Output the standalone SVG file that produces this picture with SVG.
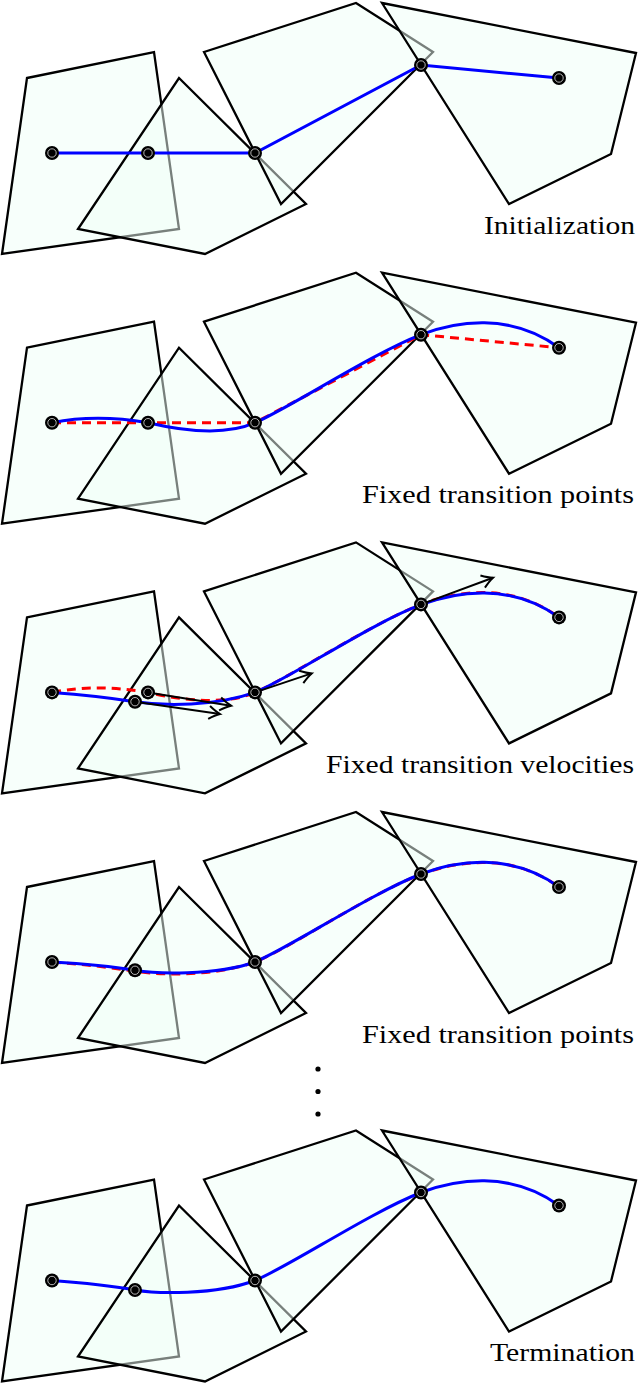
<svg xmlns="http://www.w3.org/2000/svg" width="638" height="1384" viewBox="0 0 638 1384">
<style>
.poly{fill:#f0fff7;fill-opacity:0.5;stroke:#000;stroke-width:2.3;stroke-linejoin:miter}
.blue{fill:none;stroke:#0000ff;stroke-width:3}
.red{fill:none;stroke:#ff0000;stroke-width:3;stroke-dasharray:9 6}
.vel{fill:none;stroke:#000;stroke-width:2}
.lbl{font-family:"Liberation Serif","Times New Roman",serif;font-size:25px;fill:#000}
</style>
<defs>
<marker id="arr" markerUnits="userSpaceOnUse" markerWidth="16" markerHeight="16" viewBox="-13 -8 16 16" refX="0" refY="0" orient="auto">
<path d="M-11,-6.5 Q-4.5,-1.8 0,0 Q-4.5,1.8 -11,6.5" fill="none" stroke="#000" stroke-width="2"/>
</marker>
<g id="polys">
<polygon class="poly" points="27,78 154,52 179,229 2,254"/>
<polygon class="poly" points="179,78 306,204 205,254 78,229"/>
<polygon class="poly" points="204,52 356,3 433,52 281,204"/>
<polygon class="poly" points="382,3 636,53 611,154 509,204"/>
</g>
<g id="pt">
<circle r="7" fill="#000"/>
<circle r="4.2" fill="none" stroke="#fff" stroke-width="0.7"/>
</g>
</defs>

<g id="panel1">
<use href="#polys"/>
<g id="connectors1">
<polyline class="blue" points="52,153 148,153 255,153 421,65 559,78"/>
</g>
<g id="nodes1">
<use href="#pt" x="52" y="153"/>
<use href="#pt" x="148" y="153"/>
<use href="#pt" x="255" y="153"/>
<use href="#pt" x="421" y="65"/>
<use href="#pt" x="559" y="78"/>
</g>
<text class="lbl" x="484" y="233.5" textLength="151" lengthAdjust="spacingAndGlyphs">Initialization</text>
</g>

<g id="panel2" transform="translate(0,269.7)">
<use href="#polys"/>
<g id="connectors2">
<polyline class="red" points="52,153 148,153 255,153 421,65 559,78"/>
<path class="blue" d="M52,153 C85,146.5 115,147.5 148,153 C180,160.5 225,166.5 255,153 C290,138 370,85 421,65 C455,52 510,42 559,78"/>
</g>
<g id="nodes2">
<use href="#pt" x="52" y="153"/>
<use href="#pt" x="148" y="153"/>
<use href="#pt" x="255" y="153"/>
<use href="#pt" x="421" y="65"/>
<use href="#pt" x="559" y="78"/>
</g>
<text class="lbl" x="362" y="233.5" textLength="272" lengthAdjust="spacingAndGlyphs">Fixed transition points</text>
</g>

<g id="panel3" transform="translate(0,539.4)">
<use href="#polys"/>
<g id="connectors3">
<path class="red" d="M52,153 C85,146.5 115,147.5 148,153 C180,160.5 225,166.5 255,153 C290,138 370,85 421,65 C455,52 510,42 559,78"/>
<path class="blue" d="M52,153 C80,155 108,158 135,162.3 C165,166.7 215,167 255,153 C290,139 370,84.5 421,65.3 C455,52.5 510,42.5 559,78"/>
<line class="vel" x1="148" y1="153" x2="231" y2="166.3" marker-end="url(#arr)"/>
<line class="vel" x1="135" y1="162.3" x2="220" y2="174.6" marker-end="url(#arr)"/>
<line class="vel" x1="255" y1="153" x2="311.7" y2="134" marker-end="url(#arr)"/>
<line class="vel" x1="421" y1="65" x2="493" y2="38.3" marker-end="url(#arr)"/>
</g>
<g id="nodes3">
<use href="#pt" x="52" y="153"/>
<use href="#pt" x="148" y="153"/>
<use href="#pt" x="135" y="162.3"/>
<use href="#pt" x="255" y="153"/>
<use href="#pt" x="421" y="65"/>
<use href="#pt" x="559" y="78"/>
</g>
<text class="lbl" x="326" y="233.5" textLength="308" lengthAdjust="spacingAndGlyphs">Fixed transition velocities</text>
</g>

<g id="panel4" transform="translate(0,809)">
<use href="#polys"/>
<g id="connectors4">
<path class="red" d="M52,153 C80,155 108,158 135,162.3 C165,166.7 215,167 255,153 C290,139 370,84.5 421,65.3 C455,52.5 510,42.5 559,78"/>
<path class="blue" d="M52,153 C80,154.5 110,157 135,161.3 C155,164.7 215,167 255,153 C290,138.5 370,85 421,65 C455,52.3 510,42.3 559,78"/>
</g>
<g id="nodes4">
<use href="#pt" x="52" y="153"/>
<use href="#pt" x="135" y="161.3"/>
<use href="#pt" x="255" y="153"/>
<use href="#pt" x="421" y="65"/>
<use href="#pt" x="559" y="78"/>
</g>
<text class="lbl" x="362" y="233.5" textLength="272" lengthAdjust="spacingAndGlyphs">Fixed transition points</text>
</g>

<g id="ellipsis">
<circle cx="318" cy="1069" r="2.6" fill="#000"/>
<circle cx="318" cy="1091.5" r="2.6" fill="#000"/>
<circle cx="318" cy="1114" r="2.6" fill="#000"/>
</g>

<g id="panel5" transform="translate(0,1127.5)">
<use href="#polys"/>
<g id="connectors5">
<path class="blue" d="M52,153 C80,155 110,158 135,162.5 C155,166 215,168 255,153 C290,138.5 370,85 421,65 C455,52.3 510,42.3 559,78"/>
</g>
<g id="nodes5">
<use href="#pt" x="52" y="153"/>
<use href="#pt" x="135" y="162.5"/>
<use href="#pt" x="255" y="153"/>
<use href="#pt" x="421" y="65"/>
<use href="#pt" x="559" y="78"/>
</g>
<text class="lbl" x="490" y="233.5" textLength="145" lengthAdjust="spacingAndGlyphs">Termination</text>
</g>
</svg>
